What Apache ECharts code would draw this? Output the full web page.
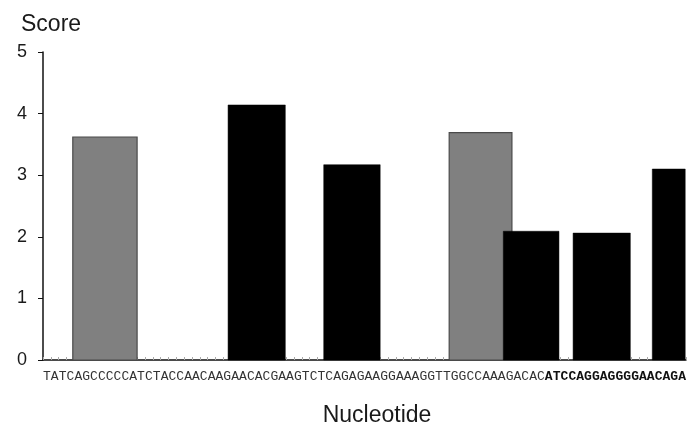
<!DOCTYPE html>
<html>
<head>
<meta charset="utf-8">
<script src="https://cdn.jsdelivr.net/npm/echarts@6/dist/echarts.min.js"></script>
<style>html,body{margin:0;padding:0;background:#fff;}#c{width:696px;height:423px;}</style>
</head>
<body>
<div id="c"></div>
<script>
const seqPlain = 'TATCAGCCCCCATCTACCAACAAGAACACGAAGTCTCAGAGAAGGAAAGGTTGGCCAAAGACAC';
const seqBold = 'ATCCAGGAGGGGAACAGA';
const nucleotides = (seqPlain + seqBold).split('');
const boldFrom = seqPlain.length;
const barStart = [3.8, 23.6, 35.8, 51.8, 58.7, 67.6, 77.7];
const barEnd = [12.0, 30.9, 43.0, 59.8, 65.8, 74.9, 81.9];
const barScore = [3.62, 4.14, 3.17, 3.69, 2.09, 2.06, 3.10];
const barType = ['gray', 'black', 'black', 'gray', 'black', 'black', 'black'];
const yTicks = [0, 1, 2, 3, 4, 5];

const chart = echarts.init(document.getElementById('c'), null, {renderer: 'canvas'});
const data = barStart.map((s, i) => [s, barEnd[i], barScore[i], barType[i] === 'gray' ? 1 : 0]);

chart.setOption({
  animation: false,
  backgroundColor: '#fff',
  grid: {left: 43, right: 10, top: 52, bottom: 63},
  title: [
    {text: 'Score', left: 16, top: 8, textStyle: {fontFamily: 'Liberation Sans, Arial, sans-serif', fontSize: 23, fontWeight: 'normal', color: '#1a1a1a'}},
    {text: 'Nucleotide', left: 372, textAlign: 'center', top: 399, textStyle: {fontFamily: 'Liberation Sans, Arial, sans-serif', fontSize: 23, fontWeight: 'normal', color: '#1a1a1a'}}
  ],
  xAxis: [
    {
      type: 'category',
      data: nucleotides,
      boundaryGap: true,
      axisLine: {lineStyle: {color: '#111', width: 1.5}},
      axisTick: {show: true, inside: true, length: 3, lineStyle: {color: '#aaa'}},
      axisLabel: {
        interval: 0,
        margin: 10,
        fontFamily: 'Liberation Mono, Courier New, monospace',
        fontSize: 13,
        color: '#333',
        formatter: function (v, idx) { return idx >= boldFrom ? '{b|' + v + '}' : v; },
        rich: {b: {fontWeight: 'bold', fontFamily: 'Liberation Mono, Courier New, monospace', fontSize: 13, color: '#111'}}
      },
      splitLine: {show: false}
    },
    {
      type: 'value',
      min: 0,
      max: nucleotides.length,
      show: false,
      splitLine: {show: false}
    }
  ],
  yAxis: {
    type: 'value',
    min: 0,
    max: 5,
    interval: 1,
    axisLine: {show: true, lineStyle: {color: '#111', width: 1.5}},
    axisTick: {show: true, length: 5, lineStyle: {color: '#111'}},
    axisLabel: {fontFamily: 'Liberation Sans, Arial, sans-serif', fontSize: 18, color: '#1a1a1a', margin: 16,
      formatter: function (v) { return yTicks.indexOf(v) >= 0 ? String(v) : ''; }},
    splitLine: {show: false}
  },
  series: [{
    type: 'custom',
    xAxisIndex: 1,
    yAxisIndex: 0,
    encode: {x: [0, 1], y: 2},
    data: data,
    renderItem: function (params, api) {
      const p0 = api.coord([api.value(0), api.value(2)]);
      const p1 = api.coord([api.value(1), 0]);
      const gray = api.value(3) === 1;
      return {
        type: 'rect',
        shape: {x: p0[0], y: p0[1], width: p1[0] - p0[0], height: p1[1] - p0[1]},
        style: gray ? {fill: '#808080', stroke: '#4a4a4a', lineWidth: 1.2} : {fill: '#000', stroke: '#000', lineWidth: 0.5}
      };
    }
  }]
});
</script>
</body>
</html>
